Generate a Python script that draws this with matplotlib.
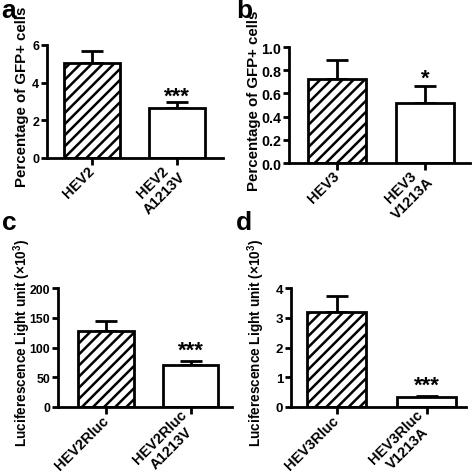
import numpy as np
import matplotlib.pyplot as plt

plt.rcParams['font.family'] = ['Liberation Sans', 'DejaVu Sans']
plt.rcParams['font.weight'] = 'bold'
plt.rcParams['hatch.linewidth'] = 1.8
plt.rcParams['mathtext.fontset'] = 'custom'
plt.rcParams['mathtext.rm'] = 'Liberation Sans'

# panel data
labels_a = ['HEV2', 'HEV2\nA1213V']
mean_a = [5.05, 2.68]
err_a = [0.65, 0.27]
stars_a = ['', '***']

labels_b = ['HEV3', 'HEV3\nV1213A']
mean_b = [0.72, 0.52]
err_b = [0.17, 0.14]
stars_b = ['', '*']

labels_c = ['HEV2Rluc', 'HEV2Rluc\nA1213V']
mean_c = [128, 70]
err_c = [17, 8]
stars_c = ['', '***']

labels_d = ['HEV3Rluc', 'HEV3Rluc\nV1213A']
mean_d = [3.2, 0.33]
err_d = [0.52, 0.05]
stars_d = ['', '***']

W, H = 472, 477
fig = plt.figure(figsize=(W / 100, H / 100), dpi=100)


def px_axes(left, right, top, bottom):
    return fig.add_axes([left / W, 1 - bottom / H, (right - left) / W, (bottom - top) / H])


def panel(ax, labels, mean, err, stars, ymax, yticks, yfmt, ytsize, xlim, star_off,
          ylabel, ylsize, lab_xy, letter, let_xy):
    x = np.arange(len(mean))
    ax.bar(x, mean, width=0.66, color='white', edgecolor='black',
           linewidth=2, hatch=['///', None], zorder=2)
    for xi, m, e in zip(x, mean, err):
        ax.errorbar(xi, m, yerr=[[0], [e]], color='black', capsize=8, capthick=2,
                    elinewidth=2, zorder=1)
    for xi, m, e, s in zip(x, mean, err, stars):
        if s:
            ax.text(xi, m + e + star_off, s, ha='center', va='center',
                    fontsize=16, fontweight='bold')
    ax.set_xlim(*xlim)
    ax.set_ylim(0, ymax)
    ax.set_yticks(yticks)
    ax.set_yticklabels([yfmt.format(v) for v in yticks])
    ax.set_xticks(x)
    ax.set_xticklabels(labels, rotation=45, ha='right', va='center',
                       rotation_mode='anchor', multialignment='center')
    ax.tick_params(axis='both', width=2)
    ax.tick_params(axis='x', length=5, pad=2.5, labelsize=10.5)
    ax.tick_params(axis='y', length=4, pad=1.5, labelsize=ytsize)
    for sp in ['top', 'right']:
        ax.spines[sp].set_visible(False)
    for sp in ['left', 'bottom']:
        ax.spines[sp].set_linewidth(2)
    ax.set_ylabel(ylabel, fontsize=ylsize, fontweight='bold')
    ax.yaxis.label.set_va('center')
    ax.yaxis.set_label_coords(lab_xy[0] / W, 1 - lab_xy[1] / H, transform=fig.transFigure)
    fig.text(let_xy[0] / W, 1 - let_xy[1] / H, letter, fontsize=19, fontweight='bold',
             ha='left', va='baseline')


luc_label = 'Luciferescence Light unit $\\mathrm{(\\times 10^3)}$'

ax_a = px_axes(47, 223, 46, 159)
panel(ax_a, labels_a, mean_a, err_a, stars_a, 6, [0, 2, 4, 6], '{:g}', 9,
      (-0.53, 1.54), 0.35, 'Percentage of GFP+ cells', 10.8, (22, 97), 'a', (1, 18))

ax_b = px_axes(289, 470, 48, 164)
panel(ax_b, labels_b, mean_b, err_b, stars_b, 1.0, [0, 0.2, 0.4, 0.6, 0.8, 1.0], '{:.1f}', 10.3,
      (-0.545, 1.51), 0.07, 'Percentage of GFP+ cells', 10.8, (254, 101), 'b', (236, 18))

ax_c = px_axes(58, 232, 289, 408)
panel(ax_c, labels_c, mean_c, err_c, stars_c, 200, [0, 50, 100, 150, 200], '{:g}', 8.8,
      (-0.57, 1.49), 17, luc_label, 9.8, (22, 343), 'c', (2, 230))

ax_d = px_axes(291, 466, 289, 408)
panel(ax_d, labels_d, mean_d, err_d, stars_d, 4, [0, 1, 2, 3, 4], '{:g}', 9.5,
      (-0.51, 1.44), 0.35, luc_label, 9.8, (256, 343), 'd', (236, 230))

fig.savefig('out.png', dpi=100)
